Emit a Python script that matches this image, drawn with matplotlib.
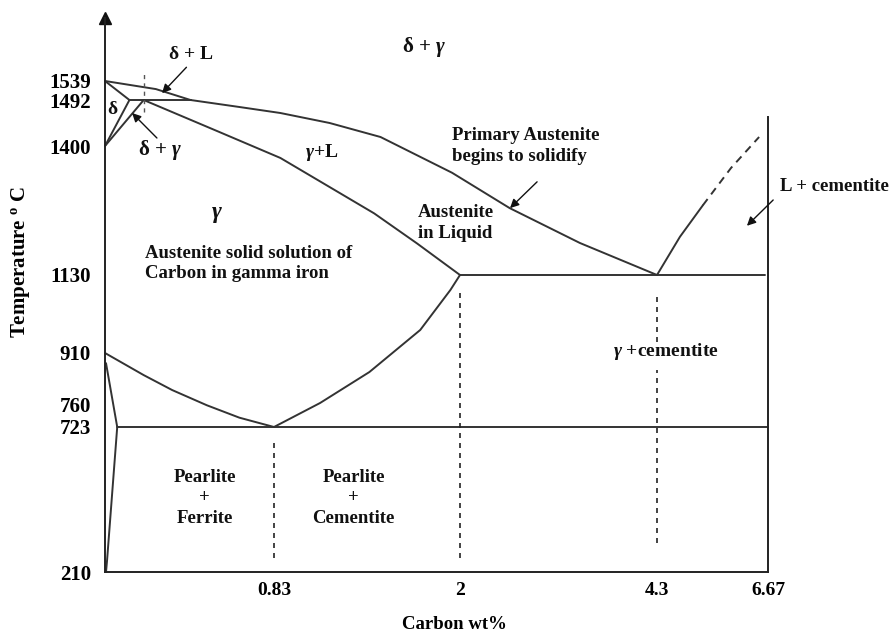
import numpy as np
import matplotlib.pyplot as plt

plt.rcParams['font.family'] = ['Liberation Serif', 'DejaVu Serif']
plt.rcParams['font.weight'] = 'bold'
plt.rcParams['mathtext.fontset'] = 'custom'
plt.rcParams['mathtext.it'] = 'Liberation Serif:italic:bold'
plt.rcParams['mathtext.rm'] = 'Liberation Serif:bold'
plt.rcParams['mathtext.bf'] = 'Liberation Serif:bold'

# schematic axes: both axes are stretched piecewise between the key points
c_knots = [-0.6, 0, 0.83, 2, 4.3, 6.67, 9.5]
c_pos = [-17, 105, 274, 460, 657, 768, 901]
t_knots = [-100, 0, 210, 723, 760, 910, 1130, 1400, 1492, 1539, 1800]
t_pos = [-25, 4, 64, 209, 232, 283, 361, 490, 536, 555, 667]

c_ticks = [0.83, 2, 4.3, 6.67]
c_labels = ['0.83', '2', '4.3', '6.67']
t_ticks = [210, 723, 760, 910, 1130, 1400, 1492, 1539]

# phase boundaries, carbon wt% vs temperature
liq_delta_c = [0, 0.25, 0.42]
liq_delta_t = [1539, 1519, 1492]
liq_c = [0.42, 0.66, 0.87, 1.18, 1.50, 1.95, 2.58, 3.40, 4.3]
liq_t = [1492, 1478, 1466, 1446, 1418, 1344, 1270, 1197, 1130]
sol_c = [0.19, 0.55, 0.87, 1.16, 1.46, 1.73, 2.0]
sol_t = [1492, 1430, 1375, 1318, 1259, 1196, 1130]
delta_c = [0, 0.12, 0]
delta_t = [1539, 1492, 1400]
gamma_start_c = [0.19, 0]
gamma_start_t = [1492, 1400]
peri_c = [0.12, 0.42]
peri_t = [1492, 1492]
peri_dash_c = 0.19
peri_dash_t = [1468, 1561]
a3_c = [0, 0.19, 0.33, 0.50, 0.66, 0.83]
a3_t = [910, 845, 801, 758, 738, 723]
solvus_c = [0.005, 0.06, 0.01, 0.005]
solvus_t = [880, 723, 250, 210]
acm_c = [0.83, 1.12, 1.43, 1.75, 1.94, 2.0]
acm_t = [723, 763, 854, 975, 1088, 1130]
cem_c = [4.3, 4.79, 5.28]
cem_t = [1130, 1210, 1276]
cem_dash_c = [5.28, 5.88, 6.48]
cem_dash_t = [1276, 1354, 1418]
eutectic_c = [2.0, 6.6]
eutectoid_c = [0.06, 6.67]
eutectic_t = 1130
eutectoid_t = 723

# dotted composition markers
mark_c = [0.83, 2, 4.3, 4.3]
mark_lo = [260, 260, 313, 941]
mark_hi = [677, 1088, 860, 1082]


def fc(x):
    return np.interp(x, c_knots, c_pos)


def ic(x):
    return np.interp(x, c_pos, c_knots)


def ft(y):
    return np.interp(y, t_knots, t_pos)


def it(y):
    return np.interp(y, t_pos, t_knots)


fig = plt.figure(figsize=(8.9, 6.36), dpi=100)
ax = fig.add_axes([0, 0, 1, 1])
ax.set_xscale('function', functions=(fc, ic))
ax.set_yscale('function', functions=(ft, it))
ax.set_xlim(ic(0), ic(890))
ax.set_ylim(it(0), it(636))

ink = '#333333'
lk = dict(color=ink, lw=1.4, solid_capstyle='round', solid_joinstyle='round')

ax.spines['top'].set_visible(False)
for s in ['left', 'bottom', 'right']:
    ax.spines[s].set_color('#222222')
    ax.spines[s].set_linewidth(1.4)
ax.spines['left'].set_position(('data', 0))
ax.spines['left'].set_bounds(210, 1686)
ax.spines['bottom'].set_position(('data', 210))
ax.spines['bottom'].set_bounds(0, 6.67)
ax.spines['right'].set_position(('data', 6.67))
ax.spines['right'].set_bounds(210, 1458)
ax.plot([0], [1686], marker='^', ms=8, color='#111111', clip_on=False)

ax.set_xticks(c_ticks, labels=c_labels)
ax.set_yticks(t_ticks, labels=[str(t) for t in t_ticks])
ax.tick_params(axis='x', length=0, pad=7, labelsize=14)
ax.tick_params(axis='y', length=0, pad=10, labelsize=15)
ax.minorticks_off()

ax.set_xlabel('Carbon wt%', fontsize=13.5, fontweight='bold')
ax.xaxis.set_label_coords(454 / 890, 1 - 616 / 636)
ax.set_ylabel('Temperature $^{\\mathrm{o}}$ C', fontsize=15, fontweight='bold')
ax.yaxis.set_label_coords(32 / 890, 1 - 262 / 636)

# boundaries
ax.plot(liq_delta_c, liq_delta_t, **lk)
ax.plot(liq_c, liq_t, **lk)
ax.plot(sol_c, sol_t, **lk)
ax.plot(delta_c, delta_t, **lk)
ax.plot(gamma_start_c, gamma_start_t, **lk)
ax.plot(peri_c, peri_t, **lk)
ax.plot(a3_c, a3_t, **lk)
ax.plot(solvus_c, solvus_t, **lk)
ax.plot(acm_c, acm_t, **lk)
ax.plot(cem_c, cem_t, **lk)
ax.plot(cem_dash_c, cem_dash_t, color=ink, lw=1.4, ls=(0, (4, 3)))
ax.plot(eutectic_c, [eutectic_t] * 2, **lk)
ax.plot(eutectoid_c, [eutectoid_t] * 2, **lk)

ax.vlines(mark_c, mark_lo, mark_hi, colors='#222222', lw=1.2, linestyles=(0, (3, 3)))
ax.vlines([peri_dash_c], peri_dash_t[0], peri_dash_t[1], colors='#555555', lw=1.0,
          linestyles=(0, (3, 3)))

# region labels
tk = dict(fontweight='bold', color='#111111')
ls = 1.3
ax.text(1.77, 1618, 'δ + $\\gamma$', ha='center', va='center', fontsize=15, **tk)
ax.text(0.42, 1601, 'δ + L', ha='center', va='center', fontsize=14, **tk)
ax.text(0.037, 1472, 'δ', ha='center', va='center', fontsize=14, **tk)
ax.text(0.27, 1392, 'δ + $\\gamma$', ha='center', va='center', fontsize=15, **tk)
ax.text(1.13, 1387, '$\\gamma$+L', ha='center', va='center', fontsize=14, **tk)
ax.text(1.95, 1400, 'Primary Austenite\nbegins to solidify', ha='left', va='center',
        fontsize=13.5, linespacing=ls, **tk)
ax.text(1.736, 1239, 'Austenite\nin Liquid', ha='left', va='center',
        fontsize=13.5, linespacing=ls, **tk)
ax.text(0.55, 1256, '$\\gamma$', ha='center', va='center', fontsize=17, **tk)
ax.text(0.196, 1154, 'Austenite solid solution of\nCarbon in gamma iron', ha='left',
        va='center', fontsize=13.5, linespacing=ls, **tk)
ax.text(3.79, 913, '$\\gamma$ +cementite', ha='left', va='center', fontsize=14, **tk)
ax.text(8.08, 1316, 'L + cementite', ha='center', va='center', fontsize=13.5, **tk)
ax.text(0.49, 472, 'Pearlite\n+\nFerrite', ha='center', va='center', fontsize=13.5,
        linespacing=ls, multialignment='center', **tk)
ax.text(1.33, 472, 'Pearlite\n+\nCementite', ha='center', va='center', fontsize=13.5,
        linespacing=ls, multialignment='center', **tk)

# pointer arrows
ak = dict(arrowstyle='-|>', color='#111111', lw=1.0, mutation_scale=13, shrinkA=0, shrinkB=0)
ax.annotate('', xy=(0.28, 1509), xytext=(0.40, 1571), arrowprops=ak)
ax.annotate('', xy=(0.133, 1466), xytext=(0.255, 1416), arrowprops=ak)
ax.annotate('', xy=(2.584, 1270), xytext=(2.9, 1325), arrowprops=ak)
ax.annotate('', xy=(6.22, 1233), xytext=(6.78, 1287), arrowprops=ak)

fig.savefig('out.png', dpi=100)
